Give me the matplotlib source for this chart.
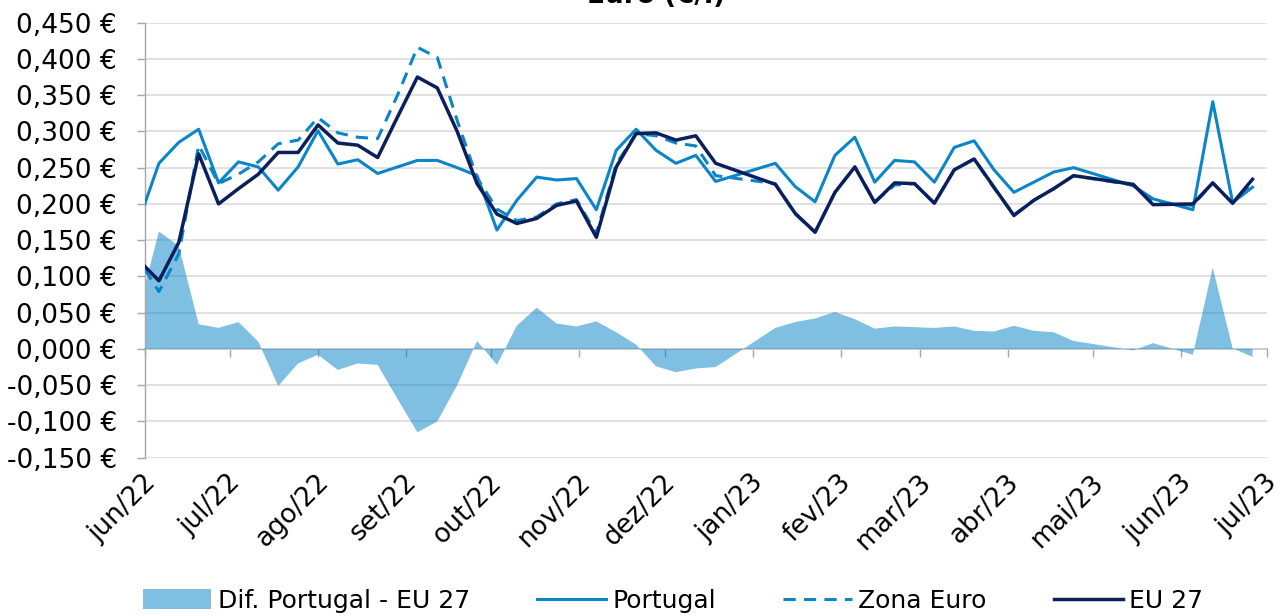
import pandas as pd
import matplotlib
matplotlib.use("Agg")
import matplotlib.pyplot as plt
from matplotlib.ticker import FuncFormatter
from matplotlib.transforms import ScaledTranslation

# semanas do boletim (sem publicação nos feriados)
datas = ["2022-06-01", "2022-06-06", "2022-06-13", "2022-06-20", "2022-06-27",
         "2022-07-04", "2022-07-11", "2022-07-18", "2022-07-25", "2022-08-01",
         "2022-08-08", "2022-08-15", "2022-08-22", "2022-08-29", "2022-09-05",
         "2022-09-12", "2022-09-19", "2022-09-26", "2022-10-03", "2022-10-10",
         "2022-10-17", "2022-10-24", "2022-10-31", "2022-11-07", "2022-11-14",
         "2022-11-21", "2022-11-28", "2022-12-05", "2022-12-12", "2022-12-19",
         "2023-01-09", "2023-01-16", "2023-01-23", "2023-01-30", "2023-02-06",
         "2023-02-13", "2023-02-20", "2023-02-27", "2023-03-06", "2023-03-13",
         "2023-03-20", "2023-03-27", "2023-04-03", "2023-04-10", "2023-04-17",
         "2023-04-24", "2023-05-15", "2023-05-22", "2023-06-05", "2023-06-12",
         "2023-06-19", "2023-06-26"]

portugal = [0.200, 0.256, 0.285, 0.303, 0.229, 0.258, 0.251, 0.219, 0.251, 0.301,
            0.255, 0.261, 0.242, 0.251, 0.260, 0.260, 0.250, 0.239, 0.164, 0.205,
            0.237, 0.233, 0.235, 0.192, 0.274, 0.303, 0.274, 0.256, 0.267, 0.231,
            0.256, 0.224, 0.203, 0.267, 0.292, 0.230, 0.260, 0.258, 0.230, 0.278,
            0.287, 0.247, 0.216, 0.230, 0.244, 0.250, 0.225, 0.207, 0.192, 0.341,
            0.202, 0.223]

zona_euro = [0.110, 0.079, 0.131, 0.281, 0.228, 0.241, 0.258, 0.283, 0.288, 0.319,
             0.298, 0.292, 0.290, 0.350, 0.416, 0.402, 0.315, 0.236, 0.193, 0.177,
             0.182, 0.200, 0.206, 0.159, 0.255, 0.297, 0.294, 0.284, 0.280, 0.239,
             0.228, 0.186, 0.161, 0.216, 0.251, 0.203, 0.226, 0.228, 0.201, 0.247,
             0.262, 0.222, 0.185, 0.205, 0.221, 0.239, 0.226, 0.203, 0.198, 0.229,
             0.201, 0.230]

eu27 = [0.114, 0.094, 0.147, 0.269, 0.200, 0.221, 0.241, 0.271, 0.271, 0.309,
        0.284, 0.281, 0.264, 0.320, 0.375, 0.360, 0.300, 0.228, 0.186, 0.173,
        0.180, 0.198, 0.204, 0.154, 0.251, 0.297, 0.298, 0.288, 0.294, 0.256,
        0.227, 0.187, 0.161, 0.216, 0.251, 0.202, 0.229, 0.228, 0.201, 0.247,
        0.262, 0.223, 0.184, 0.205, 0.221, 0.239, 0.227, 0.199, 0.200, 0.229,
        0.201, 0.234]

dif_pt_eu27 = [0.086, 0.162, 0.142, 0.034, 0.029, 0.037, 0.010, -0.051, -0.020, -0.008,
               -0.029, -0.020, -0.022, -0.069, -0.115, -0.100, -0.050, 0.011, -0.022, 0.032,
               0.057, 0.035, 0.031, 0.038, 0.023, 0.006, -0.024, -0.032, -0.027, -0.025,
               0.029, 0.037, 0.042, 0.051, 0.041, 0.028, 0.031, 0.030, 0.029, 0.031,
               0.025, 0.024, 0.032, 0.025, 0.023, 0.011, -0.002, 0.008, -0.008, 0.112,
               0.001, -0.011]

meses = ["2022-06-01", "2022-07-01", "2022-08-01", "2022-09-01", "2022-10-01",
         "2022-11-01", "2022-12-01", "2023-01-01", "2023-02-01", "2023-03-01",
         "2023-04-01", "2023-05-01", "2023-06-01", "2023-07-01"]
rotulos_meses = ["jun/22", "jul/22", "ago/22", "set/22", "out/22", "nov/22", "dez/22",
                 "jan/23", "fev/23", "mar/23", "abr/23", "mai/23", "jun/23", "jul/23"]

valores_y = [-0.15, -0.10, -0.05, 0.0, 0.05, 0.10, 0.15, 0.20, 0.25, 0.30, 0.35, 0.40, 0.45]

t = pd.to_datetime(datas)
t_meses = pd.to_datetime(meses)

azul = "#0a85c8"
marinho = "#0b1f5c"
cinza = "#a6a6a6"
fs = 19

fig = plt.figure(figsize=(12.83, 6.16), dpi=100)
ax = fig.add_axes([0.1128, 0.257, 0.8745, 0.7062])

area = ax.fill_between(t, dif_pt_eu27, 0, facecolor="#0080c4", alpha=0.5, lw=0,
                       label="Dif. Portugal - EU 27", zorder=2)
l_pt, = ax.plot(t, portugal, color=azul, lw=2.2, label="Portugal", zorder=3)
l_ze, = ax.plot(t, zona_euro, color=azul, lw=2.2, ls=(0, (4, 2.7)), label="Zona Euro", zorder=4)
l_eu, = ax.plot(t, eu27, color=marinho, lw=2.5, label="EU 27", zorder=5)

ax.set_xlim(t_meses[0], t_meses[-1])
ax.set_ylim(valores_y[0], valores_y[-1])
ax.set_yticks(valores_y)
ax.yaxis.set_major_formatter(FuncFormatter(lambda v, p: f"{v:.3f} €".replace(".", ",")))
ax.grid(axis="y", color="#d9d9d9", lw=1.1)
ax.set_axisbelow(True)

for s in ["top", "right", "bottom"]:
    ax.spines[s].set_visible(False)
ax.spines["left"].set_color(cinza)
ax.spines["left"].set_linewidth(1.0)
ax.tick_params(axis="y", direction="out", length=5.8, width=1.0, color=cinza,
               labelsize=fs, pad=14)

# rótulos dos meses em baixo, eixo horizontal no zero
ax.set_xticks(t_meses)
ax.set_xticklabels(rotulos_meses, rotation=45, ha="right", va="center",
                   rotation_mode="anchor", fontsize=fs)
ax.tick_params(axis="x", length=0, pad=15)
desloc = ScaledTranslation(7 / 100, 0, fig.dpi_scale_trans)
for lab in ax.get_xticklabels():
    lab.set_transform(lab.get_transform() + desloc)

eixo0 = ax.secondary_xaxis(0, transform=ax.transData)
eixo0.set_xticks(t_meses)
eixo0.tick_params(direction="out", length=5.8, width=1.0, color=cinza, labelbottom=False)
eixo0.spines["bottom"].set_color(cinza)
eixo0.spines["bottom"].set_linewidth(1.3)

fig.text(656 / 1283, 1 - 3 / 616, "Euro (€/l)", ha="center", va="baseline",
         fontsize=fs, fontweight="bold")

fig.legend(handles=[area, l_pt, l_ze, l_eu], loc="center",
           bbox_to_anchor=(673 / 1283, 1 - 601 / 616), ncol=4, frameon=False,
           fontsize=18, handlelength=2.75, handleheight=0.85, handletextpad=0.25,
           columnspacing=2.7)

fig.savefig("out.png", dpi=100)
